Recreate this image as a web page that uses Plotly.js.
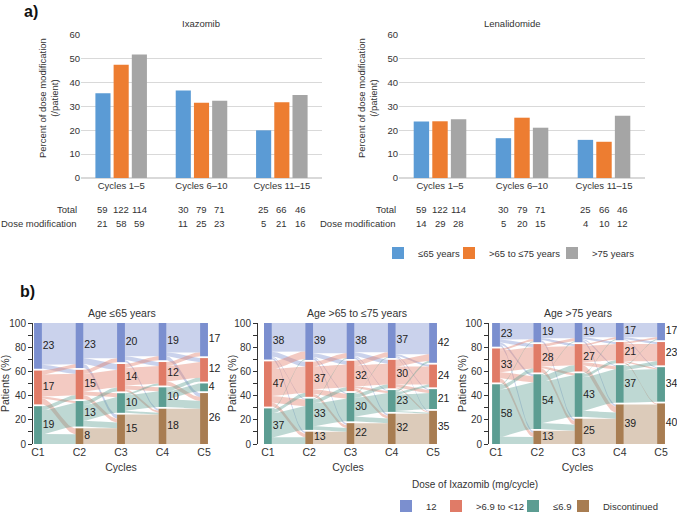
<!DOCTYPE html>
<html><head><meta charset="utf-8">
<script src="https://cdn.plot.ly/plotly-3.0.1.min.js"></script>
<style>html,body{margin:0;padding:0;background:#fff}#chart{width:677px;height:512px}</style>
</head><body><div id="chart"></div>
<script>
// ---------- Data: part a ----------
const groups = ['Cycles 1–5', 'Cycles 6–10', 'Cycles 11–15'];
const ageLabels = ['≤65 years', '>65 to ≤75 years', '>75 years'];
const ixaPct65 = [35.6, 36.7, 20.0];
const ixaPct75 = [47.5, 31.6, 31.8];
const ixaPctOld = [51.8, 32.4, 34.8];
const lenPct65 = [23.7, 16.7, 16.0];
const lenPct75 = [23.8, 25.3, 15.2];
const lenPctOld = [24.6, 21.1, 26.1];
const totals65 = [59, 30, 25];
const totals75 = [122, 79, 66];
const totalsOld = [114, 71, 46];
const ixaMod65 = [21, 11, 5];
const ixaMod75 = [58, 25, 21];
const ixaModOld = [59, 23, 16];
const lenMod65 = [14, 5, 4];
const lenMod75 = [29, 20, 10];
const lenModOld = [28, 15, 12];
const rowLabels = ['Total', 'Dose modification'];

// ---------- Data: part b ----------
const cycles = ['C1', 'C2', 'C3', 'C4', 'C5'];
const doseCats = ['12', '>6.9 to <12', '≤6.9', 'Discontinued'];
const panelTitles = ['Age ≤65 years', 'Age >65 to ≤75 years', 'Age >75 years'];
// patients per cycle: [12, >6.9 to <12, ≤6.9, Discontinued]
const nodes65 = [[23,17,19,0],[23,15,13,8],[20,14,10,15],[19,12,10,18],[17,12,4,26]];
const nodes75 = [[38,47,37,0],[39,37,33,13],[38,32,30,22],[37,30,23,32],[42,24,21,35]];
const nodesOld = [[23,33,58,0],[19,28,54,13],[19,27,43,25],[17,21,37,39],[17,23,34,40]];
// estimated transitions between consecutive cycles (row: from, column: to)
const flows65 = [
  [[21,2,0,0],[2,11,1,3],[0,2,12,5],[0,0,0,0]],
  [[18,3,0,2],[2,9,2,2],[0,2,8,3],[0,0,0,8]],
  [[17,2,0,1],[2,9,2,1],[0,1,8,1],[0,0,0,15]],
  [[15,2,0,2],[2,8,0,2],[0,2,4,4],[0,0,0,18]]
];
const flows75 = [
  [[30,5,1,2],[8,28,7,4],[1,4,25,7],[0,0,0,0]],
  [[32,4,1,2],[5,24,5,3],[1,4,24,4],[0,0,0,13]],
  [[31,4,1,2],[5,22,2,3],[1,4,20,5],[0,0,0,22]],
  [[33,2,1,1],[7,19,3,1],[2,3,17,1],[0,0,0,32]]
];
const flowsOld = [
  [[16,3,2,2],[2,21,6,4],[1,4,46,7],[0,0,0,0]],
  [[15,2,0,2],[3,19,2,4],[1,6,41,6],[0,0,0,13]],
  [[14,2,1,2],[2,16,3,6],[1,3,33,6],[0,0,0,25]],
  [[14,2,1,0],[2,17,1,1],[1,4,32,0],[0,0,0,39]]
];

// ---------- Styles ----------
const W = 677, H = 512;
const fx = p => p / W, fy = p => 1 - p / H;
const FONT = 'Liberation Sans, Arial, sans-serif';
const TXT = '#333333';
const barColors = ['#5b9bd5', '#ed7d31', '#a5a5a5'];
const nodeColors = ['#7b8fcf', '#e07b67', '#5c9d92', '#a87d52'];
const NODE_W = 0.19, GAP = 1.5, FLOW_ALPHA = 0.4;
const BARGAP = 0.32;
const TEXT_OFF = 40; // px from legend left edge to its text
const FS_TOP = 9.5, FS_BOT = 10.5;

function rgba(hex, a) {
  const n = parseInt(hex.slice(1), 16);
  return `rgba(${(n >> 16) & 255},${(n >> 8) & 255},${n & 255},${a})`;
}
function ann(x, y, text, size, opts) {
  return Object.assign({xref: 'paper', yref: 'paper', x: x, y: y, text: text, showarrow: false,
    xanchor: 'center', yanchor: 'middle', font: {size: size, color: TXT, family: FONT}}, opts || {});
}

const traces = [];
const annotations = [];
const legendIds = ['legend', 'legend2', 'legend3', 'legend4', 'legend5', 'legend6', 'legend7'];

// ---------- Part a bars ----------
const topSets = [
  {xa: 'x', ya: 'y', vals: [ixaPct65, ixaPct75, ixaPctOld], mods: [ixaMod65, ixaMod75, ixaModOld], leg: true},
  {xa: 'x2', ya: 'y2', vals: [lenPct65, lenPct75, lenPctOld], mods: [lenMod65, lenMod75, lenModOld], leg: false}
];
const totalsAll = [totals65, totals75, totalsOld];
const slot = (1 - BARGAP) / 3;
topSets.forEach(s => {
  s.vals.forEach((v, j) => {
    traces.push({type: 'bar', x: [0, 1, 2], y: v, xaxis: s.xa, yaxis: s.ya, name: ageLabels[j],
      marker: {color: barColors[j]}, legendgroup: 'age' + j, showlegend: s.leg, legend: legendIds[j],
      hoverinfo: 'y'});
  });
  const rows = [totalsAll, s.mods];
  rows.forEach((rowSet, r) => {
    rowSet.forEach((arr, j) => {
      arr.forEach((val, g) => {
        annotations.push(ann(g + (j - 1) * slot, fy(r === 0 ? 209 : 223), String(val), FS_TOP, {xref: s.xa}));
      });
    });
  });
});
[79, 398].forEach(px => {
  rowLabels.forEach((lab, r) => {
    annotations.push(ann(fx(px), fy(r === 0 ? 209 : 223), lab, FS_TOP, {xanchor: 'right'}));
  });
});
annotations.push(ann(fx(201), fy(23), 'Ixazomib', FS_TOP));
annotations.push(ann(fx(512), fy(23), 'Lenalidomide', FS_TOP));
[48, 367].forEach(px => {
  annotations.push(ann(fx(px), fy(98), 'Percent of dose modification<br>(/patient)', FS_TOP, {textangle: -90}));
});
annotations.push(ann(fx(22), fy(11), '<b>a)</b>', 16, {xanchor: 'left', font: {size: 16, color: '#111', family: FONT}}));
annotations.push(ann(fx(18), fy(291), '<b>b)</b>', 16, {xanchor: 'left', font: {size: 16, color: '#111', family: FONT}}));
annotations.push(ann(fx(410), fy(484), 'Dose of Ixazomib (mg/cycle)', 10, {xanchor: 'left'}));

// ---------- Part b alluvial ----------
function layoutNodes(counts) {
  const N = counts.reduce((a, b) => a + b, 0);
  const nz = counts.filter(c => c > 0).length;
  const k = (100 - GAP * (nz - 1)) / N;
  let top = 100;
  const res = counts.map(c => {
    if (c <= 0) return null;
    const h = c * k;
    const o = {top: top, bot: top - h, h: h};
    top = top - h - GAP;
    return o;
  });
  return {res: res, k: k};
}
function smooth(u) { return u * u * (3 - 2 * u); }

const panels = [
  {nodes: nodes65, flows: flows65, xa: 'x3', ya: 'y3'},
  {nodes: nodes75, flows: flows75, xa: 'x4', ya: 'y4'},
  {nodes: nodesOld, flows: flowsOld, xa: 'x5', ya: 'y5'}
];
panels.forEach((p, pi) => {
  const lays = p.nodes.map(layoutNodes);
  p.flows.forEach((mat, t) => {
    const S = lays[t], T = lays[t + 1];
    const outCur = S.res.map(n => n ? n.top : 0);
    const inCur = T.res.map(n => n ? n.top : 0);
    const inPos = mat.map(() => [0, 0, 0, 0]);
    for (let j = 0; j < 4; j++) {
      for (let i = 0; i < 4; i++) {
        if (mat[i][j] > 0) { inPos[i][j] = inCur[j]; inCur[j] -= mat[i][j] * T.k; }
      }
    }
    for (let i = 0; i < 4; i++) {
      for (let j = 0; j < 4; j++) {
        const v = mat[i][j];
        if (v <= 0) continue;
        const s0 = outCur[i], s1 = s0 - v * S.k; outCur[i] = s1;
        const t0 = inPos[i][j], t1 = t0 - v * T.k;
        const x0 = t + NODE_W / 2, x1 = t + 1 - NODE_W / 2;
        const xs = [], ys = [];
        const n = 24;
        for (let q = 0; q <= n; q++) { const u = q / n; xs.push(x0 + (x1 - x0) * u); ys.push(s0 + (t0 - s0) * smooth(u)); }
        for (let q = n; q >= 0; q--) { const u = q / n; xs.push(x0 + (x1 - x0) * u); ys.push(s1 + (t1 - s1) * smooth(u)); }
        traces.push({type: 'scatter', mode: 'lines', x: xs, y: ys, xaxis: p.xa, yaxis: p.ya, fill: 'toself',
          fillcolor: rgba(nodeColors[i], FLOW_ALPHA), line: {width: 0}, hoverinfo: 'skip', showlegend: false});
      }
    }
  });
  for (let c = 0; c < 4; c++) {
    const xs = [], bases = [], hs = [];
    lays.forEach((L, t) => { if (L.res[c]) { xs.push(t); bases.push(L.res[c].bot); hs.push(L.res[c].h); } });
    traces.push({type: 'bar', x: xs, y: hs, base: bases, width: NODE_W, offset: -NODE_W / 2,
      xaxis: p.xa, yaxis: p.ya, name: doseCats[c], marker: {color: nodeColors[c], line: {width: 0}},
      legend: legendIds[3 + c], legendgroup: 'dose' + c, showlegend: pi === 0, hoverinfo: 'skip'});
  }
  const lx = [], ly = [], lt = [];
  lays.forEach((L, t) => {
    L.res.forEach((n, c) => { if (n) { lx.push(t + NODE_W / 2 + 0.02); ly.push((n.top + n.bot) / 2); lt.push(String(p.nodes[t][c])); } });
  });
  traces.push({type: 'scatter', mode: 'text', x: lx, y: ly, text: lt, textposition: 'middle right',
    textfont: {size: FS_BOT, color: '#222', family: FONT}, xaxis: p.xa, yaxis: p.ya, cliponaxis: false,
    showlegend: false, hoverinfo: 'skip'});
});

const panelTitleX = [122, 357, 578];
panelTitles.forEach((t, i) => annotations.push(ann(fx(panelTitleX[i]), fy(313), t, FS_BOT)));
const yTitleX = [5, 232, 462];
yTitleX.forEach(px => annotations.push(ann(fx(px), fy(384), 'Patients (%)', FS_BOT, {textangle: -90})));

// ---------- Layout ----------
const tfTop = {size: FS_TOP, color: TXT, family: FONT};
const tfBot = {size: FS_BOT, color: TXT, family: FONT};
const tfBotY = {size: 10, color: TXT, family: FONT};
function topX(d, anchor) {
  return {domain: d, range: [-0.5, 2.5], tickvals: [0, 1, 2], ticktext: groups, showline: false, ticks: '',
    showgrid: false, zeroline: false, tickfont: tfTop, automargin: false, anchor: anchor, tickangle: 0, fixedrange: true};
}
function topY(d, anchor) {
  return {domain: d, range: [0, 60], dtick: 10, showgrid: true, gridcolor: '#d9d9d9', gridwidth: 1.3,
    zeroline: true, zerolinecolor: '#d9d9d9', zerolinewidth: 1.3, showline: false, ticks: '', tickfont: tfTop,
    automargin: false, anchor: anchor, fixedrange: true};
}
function botX(d, r, anchor) {
  return {domain: d, range: r, tickvals: [0, 1, 2, 3, 4], ticktext: cycles, showline: false, ticks: '',
    showgrid: false, zeroline: false, tickfont: tfBot, automargin: false, anchor: anchor, tickangle: 0,
    title: {text: 'Cycles', font: tfBot, standoff: 7}, fixedrange: true};
}
function botY(d, anchor) {
  return {domain: d, range: [0, 100], tickvals: [0, 20, 40, 60, 80, 100], showline: true, linecolor: '#333',
    linewidth: 1, ticks: 'outside', ticklen: 4, tickcolor: '#333', tickwidth: 1,
    minor: {dtick: 10, ticks: 'outside', ticklen: 4, tickcolor: '#333', tickwidth: 1},
    showgrid: false, zeroline: false, tickfont: tfBotY, automargin: false, anchor: anchor, fixedrange: true};
}
function legAt(textPx, yPx, size) {
  return {orientation: 'h', x: fx(textPx - TEXT_OFF), y: fy(yPx), xanchor: 'left', yanchor: 'middle',
    font: {size: size, color: TXT, family: FONT}, bgcolor: 'rgba(0,0,0,0)', borderwidth: 0};
}
const yTop = [fy(178), fy(35)];
const yBot = [fy(444), fy(323)];
const layout = {
  width: W, height: H, margin: {l: 0, r: 0, t: 0, b: 0, autoexpand: false}, paper_bgcolor: '#fff', plot_bgcolor: 'rgba(0,0,0,0)',
  font: {family: FONT, color: TXT, size: 10},
  barmode: 'group', bargap: BARGAP, bargroupgap: 0.17,
  xaxis: topX([fx(81), fx(322)], 'y'), yaxis: topY(yTop, 'x'),
  xaxis2: topX([fx(399), fx(645)], 'y2'), yaxis2: topY(yTop, 'x2'),
  xaxis3: botX([fx(33), fx(209)], [-0.12, 4.12], 'y3'), yaxis3: botY(yBot, 'x3'),
  xaxis4: botX([fx(258), fx(438)], [-0.24, 4.12], 'y4'), yaxis4: botY(yBot, 'x4'),
  xaxis5: botX([fx(489), fx(666)], [-0.17, 4.12], 'y5'), yaxis5: botY(yBot, 'x5'),
  legend: legAt(418, 253, 9.5),
  legend2: legAt(489, 253, 9.5),
  legend3: legAt(592, 253, 9.5),
  legend4: legAt(426, 506, 9.5),
  legend5: legAt(476, 506, 9.5),
  legend6: legAt(553, 506, 9.5),
  legend7: legAt(603, 506, 9.5),
  annotations: annotations,
  showlegend: true
};
Plotly.newPlot('chart', traces, layout, {displayModeBar: false, staticPlot: true});
</script>
</body></html>
